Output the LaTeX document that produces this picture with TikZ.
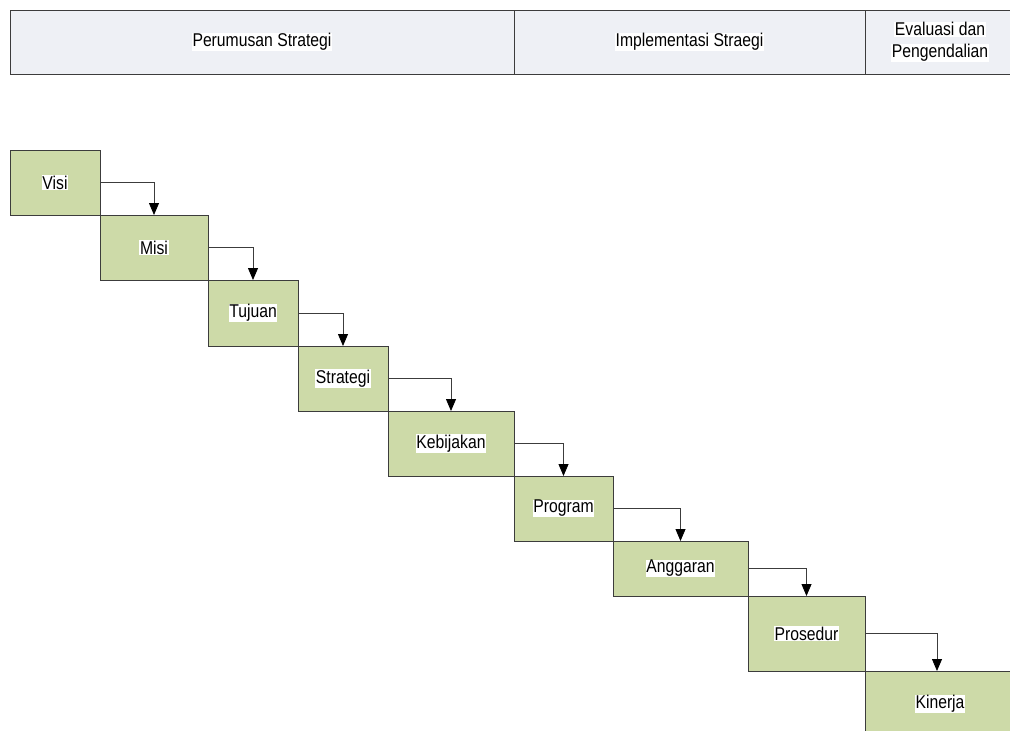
\documentclass[tikz,border=0pt]{standalone}
\usepackage{fontspec}
\setmainfont{Liberation Sans}[FakeStretch=0.85]
\usetikzlibrary{arrows.meta}
\definecolor{boxgreen}{RGB}{205,218,168}
\definecolor{headfill}{RGB}{238,240,245}
\definecolor{edgegray}{RGB}{60,60,60}
\newcommand\lbl[1]{{\setlength{\fboxsep}{0.6pt}\colorbox{white}{#1}}}
\begin{document}
\begin{tikzpicture}[x=1pt,y=-1pt,
  every node/.style={font=\fontsize{18.5}{22}\selectfont},
  stage/.style={draw=edgegray, line width=0.9pt, fill=boxgreen, inner sep=0pt, outer sep=0pt},
  headcell/.style={draw=edgegray, line width=0.9pt, fill=headfill, inner sep=0pt, outer sep=0pt, align=center},
  flow/.style={draw=edgegray, line width=0.8pt, -{Triangle[length=12pt,width=10pt,color=black]}}
]
\useasboundingbox (0,0) rectangle (1010,731);
\begin{scope}
\clip (0,0) rectangle (1010,731);
% header
\node[headcell, minimum width=504, minimum height=64] (h1) at (262,42) {\lbl{Perumusan Strategi}};
\node[headcell, minimum width=351, minimum height=64] (h2) at (689.5,42) {\lbl{Implementasi Straegi}};
\node[headcell, minimum width=150, minimum height=64] (h3) at (940,42) {\lbl{Evaluasi dan}\\[0pt]\lbl{Pengendalian}};
% stages
\node[stage, minimum width=90, minimum height=65] (visi) at (55,182.5) {\lbl{Visi}};
\node[stage, minimum width=108, minimum height=65] (misi) at (154,247.5) {\lbl{Misi}};
\node[stage, minimum width=90, minimum height=66] (tujuan) at (253,313) {\lbl{Tujuan}};
\node[stage, minimum width=90, minimum height=65] (strategi) at (343,378.5) {\lbl{Strategi}};
\node[stage, minimum width=126, minimum height=65] (kebijakan) at (451,443.5) {\lbl{Kebijakan}};
\node[stage, minimum width=99, minimum height=65] (program) at (563.5,508.5) {\lbl{Program}};
\node[stage, minimum width=135, minimum height=55] (anggaran) at (680.5,568.5) {\lbl{Anggaran}};
\node[stage, minimum width=117, minimum height=75] (prosedur) at (806.5,633.5) {\lbl{Prosedur}};
\node[stage, minimum width=150, minimum height=66] (kinerja) at (940,704) {\lbl{Kinerja}};
% connectors
\draw[flow] (visi.east) -| (misi.north);
\draw[flow] (misi.east) -| (tujuan.north);
\draw[flow] (tujuan.east) -| (strategi.north);
\draw[flow] (strategi.east) -| (kebijakan.north);
\draw[flow] (kebijakan.east) -| (program.north);
\draw[flow] (program.east) -| (anggaran.north);
\draw[flow] (anggaran.east) -| (prosedur.north);
\draw[flow] (prosedur.east) -| ([xshift=-3pt]kinerja.north);
\end{scope}
\end{tikzpicture}
\end{document}
